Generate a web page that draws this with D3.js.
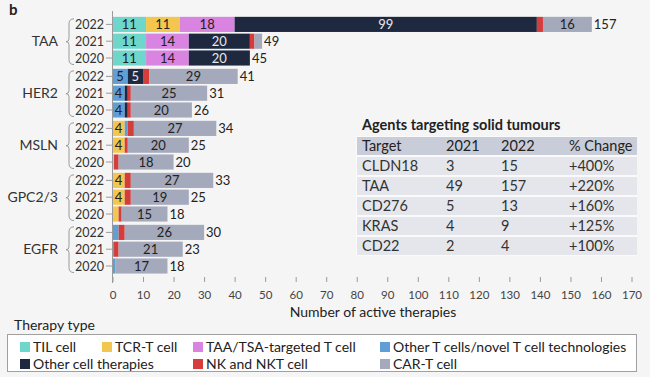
<!DOCTYPE html>
<html>
<head>
<meta charset="utf-8">
<script src="https://cdn.jsdelivr.net/npm/d3@7"></script>
<style>
  body { margin: 0; background: #f5f5f5; }
  svg { display: block; font-family: Lato, "Open Sans", sans-serif; }
</style>
</head>
<body>
<div id="chart"></div>
<script>
// categories
const groups = ["TAA", "HER2", "MSLN", "GPC2/3", "EGFR"];
const years = ["2022", "2021", "2020"];
const therapyTypes = ["TIL cell", "TCR-T cell", "TAA/TSA-targeted T cell", "Other T cells/novel T cell technologies",
  "Other cell therapies", "NK and NKT cell", "CAR-T cell"];
const typeColors = ["#6fd6cc", "#f2c64f", "#d884e0", "#5f9fd6", "#1e2940", "#d43d3b", "#a4a9bb"];

// series values, rows: TAA 2022/2021/2020, HER2 ..., MSLN ..., GPC2/3 ..., EGFR ...
const tilCell   = [11, 11, 11,  0, 0, 0,  0, 0, 0,    0, 0, 0,  0, 0, 0];
const tcrT      = [11, 0, 0,    0, 0, 0,  4, 4, 0.5,  4, 4, 2,  0, 0, 0];
const taaTsa    = [18, 14, 14,  0, 0, 0,  0, 0, 0,    0, 0, 0,  0, 0, 0];
const otherT    = [0, 0, 0,     5, 4, 4,  1, 0, 0,    0, 0, 0,  2, 0.5, 1];
const otherCell = [99, 20, 20,  5, 1, 1,  0, 0, 0,    0, 0, 0,  0, 0, 0];
const nkCell    = [2, 1.5, 0,   2, 1, 1,  2, 1, 1.5,  2, 2, 1,  2, 1.5, 0];
const carT      = [16, 2.5, 0,  29, 25, 20,  27, 20, 18,  27, 19, 15,  26, 21, 17];
const totals    = [157, 49, 45, 41, 31, 26, 34, 25, 20, 33, 25, 18, 30, 23, 18];

const xTicks = d3.range(0, 171, 10);

// table
const tableHead = ["Target", "2021", "2022", "% Change"];
const tableTargets = ["CLDN18", "TAA", "CD276", "KRAS", "CD22"];
const table2021 = [3, 49, 5, 4, 2];
const table2022 = [15, 157, 13, 9, 4];
const tableChange = ["+400%", "+220%", "+160%", "+125%", "+100%"];

const width = 650, height = 377;
const svg = d3.select("#chart").append("svg")
  .attr("width", width).attr("height", height);

svg.append("rect").attr("width", width).attr("height", height).attr("fill", "#f5f5f5");

svg.append("text").attr("x", 9).attr("y", 15)
  .style("font-size", "15px").style("font-weight", "bold").attr("fill", "#222").text("b");

const seriesArr = [tilCell, tcrT, taaTsa, otherT, otherCell, nkCell, carT];
const rows = [];
groups.forEach((g, gi) => years.forEach((y, yi) => {
  const i = gi * 3 + yi;
  const r = { group: g, year: y, total: totals[i] };
  therapyTypes.forEach((t, ti) => r[t] = seriesArr[ti][i]);
  rows.push(r);
}));

const x = d3.scaleLinear().domain([0, 170]).range([112.5, 631.5]);
const yGroup = d3.scaleBand().domain(groups).range([16, 276]).padding(0);
const yYear = d3.scaleBand().domain(years).range([0, 50.4]).paddingInner(0.1).paddingOuter(0.05);
const yPos = d => yGroup(d.group) + yYear(d.year);
const color = d3.scaleOrdinal().domain(therapyTypes).range(typeColors);

const stacked = d3.stack().keys(therapyTypes)(rows);

// bars
const layer = svg.append("g").selectAll("g")
  .data(stacked)
  .join("g")
  .attr("fill", d => color(d.key));

layer.selectAll("rect")
  .data(d => d.map(s => Object.assign(s, { key: d.key })))
  .join("rect")
  .attr("x", d => x(d[0]))
  .attr("y", d => yPos(d.data))
  .attr("width", d => x(d[1]) - x(d[0]))
  .attr("height", yYear.bandwidth());

// segment labels
layer.selectAll("text")
  .data(d => d.filter(s => s[1] - s[0] >= 4))
  .join("text")
  .attr("x", d => (x(d[0]) + x(d[1])) / 2)
  .attr("y", d => yPos(d.data) + yYear.bandwidth() / 2 + 4.5)
  .attr("text-anchor", "middle")
  .style("font-size", "13px")
  .attr("fill", d => d.key == "Other cell therapies" ? "#e8e8ee" : "#222")
  .text(d => d[1] - d[0]);

// totals
svg.append("g").selectAll("text")
  .data(rows)
  .join("text")
  .attr("x", d => x(d.total) + 2)
  .attr("y", d => yPos(d) + yYear.bandwidth() / 2 + 4.5)
  .style("font-size", "13px")
  .attr("fill", "#222")
  .text(d => d.total);

// y axis line and ticks
const axisG = svg.append("g").attr("stroke", "#9a9a9a").attr("stroke-width", 1);
axisG.append("line").attr("x1", x(0)).attr("x2", x(0)).attr("y1", 11).attr("y2", 283);
axisG.selectAll(".yt").data(rows).join("line")
  .attr("x1", 106).attr("x2", x(0))
  .attr("y1", d => yPos(d) + yYear.bandwidth() / 2)
  .attr("y2", d => yPos(d) + yYear.bandwidth() / 2);

svg.append("g").selectAll("text").data(rows).join("text")
  .attr("x", 104)
  .attr("y", d => yPos(d) + yYear.bandwidth() / 2 + 4.5)
  .attr("text-anchor", "end")
  .style("font-size", "12.5px")
  .attr("fill", "#333")
  .text(d => d.year);

// group labels + braces
const gLab = svg.append("g").selectAll("g").data(groups).join("g");
gLab.append("text")
  .attr("x", 58)
  .attr("y", g => yGroup(g) + yYear("2021") + yYear.bandwidth() / 2 + 5)
  .attr("text-anchor", "end")
  .style("font-size", "14px")
  .attr("fill", "#333")
  .text(g => g);
gLab.append("path")
  .attr("fill", "none").attr("stroke", "#999").attr("stroke-width", 1)
  .attr("d", g => {
    const t = yGroup(g) + yYear("2022") + 2, b = yGroup(g) + yYear("2020") + yYear.bandwidth() - 1;
    const m = (t + b) / 2;
    return `M74,${t} Q69,${t} 69,${t + 5} L69,${m - 3} Q69,${m} 66,${m} Q69,${m} 69,${m + 3} L69,${b - 5} Q69,${b} 74,${b}`;
  });

// x axis
const xAxis = svg.append("g")
  .attr("transform", `translate(0,${277})`)
  .call(d3.axisBottom(x).tickValues(xTicks).tickSize(5).tickSizeOuter(0));
xAxis.select(".domain").remove();
xAxis.selectAll(".tick line").attr("stroke", "#9a9a9a");
xAxis.selectAll(".tick text")
  .attr("y", 14)
  .style("font-size", "11.5px")
  .style("font-family", "Lato, sans-serif")
  .attr("fill", "#444");

svg.append("text")
  .attr("x", 373).attr("y", 317)
  .attr("text-anchor", "middle")
  .style("font-size", "14px")
  .attr("fill", "#222")
  .text("Number of active therapies");

// table
const tb = svg.append("g");
tb.append("text").attr("x", 362).attr("y", 130)
  .style("font-size", "14.5px").style("font-weight", "bold").attr("fill", "#222")
  .text("Agents targeting solid tumours");
const colX = [362, 446, 501, 569];
tb.append("rect").attr("x", 356).attr("y", 136).attr("width", 281).attr("height", 120).attr("fill", "#fafafa");
tb.append("rect").attr("x", 357).attr("y", 137).attr("width", 280).attr("height", 18).attr("fill", "#c9cdd9");
tb.selectAll(".th").data(tableHead).join("text")
  .attr("x", (d, i) => colX[i]).attr("y", 151)
  .style("font-size", "14.5px").attr("fill", "#222").text(d => d);
const trow = tb.selectAll(".tr").data(tableTargets).join("g")
  .attr("transform", (d, i) => `translate(0,${157 + i * 20})`);
trow.append("rect").attr("x", 357).attr("width", 280).attr("height", 18).attr("fill", "#e5e6eb");
trow.append("text").attr("x", colX[0]).attr("y", 14).text(d => d);
trow.append("text").attr("x", colX[1]).attr("y", 14).text((d, i) => table2021[i]);
trow.append("text").attr("x", colX[2]).attr("y", 14).text((d, i) => table2022[i]);
trow.append("text").attr("x", colX[3]).attr("y", 14).text((d, i) => tableChange[i]);
trow.selectAll("text").style("font-size", "14.5px").attr("fill", "#333");

// legend
svg.append("text").attr("x", 14).attr("y", 330)
  .style("font-size", "14px").attr("fill", "#222").text("Therapy type");
svg.append("rect").attr("x", 7.5).attr("y", 334.5).attr("width", 629).attr("height", 37)
  .attr("fill", "#fff").attr("stroke", "#a0a0a0");
const legX = [20, 102, 193, 380, 20, 193, 380];
const legY = [347, 347, 347, 347, 364, 364, 364];
const leg = svg.append("g").selectAll("g").data(therapyTypes).join("g")
  .attr("transform", (d, i) => `translate(${legX[i]},${legY[i]})`);
leg.append("rect").attr("x", 0).attr("y", -5).attr("width", 10).attr("height", 10).attr("fill", d => color(d));
leg.append("text").attr("x", 13).attr("y", 5)
  .style("font-size", "14px").attr("fill", "#222").text(d => d);
</script>
</body>
</html>
